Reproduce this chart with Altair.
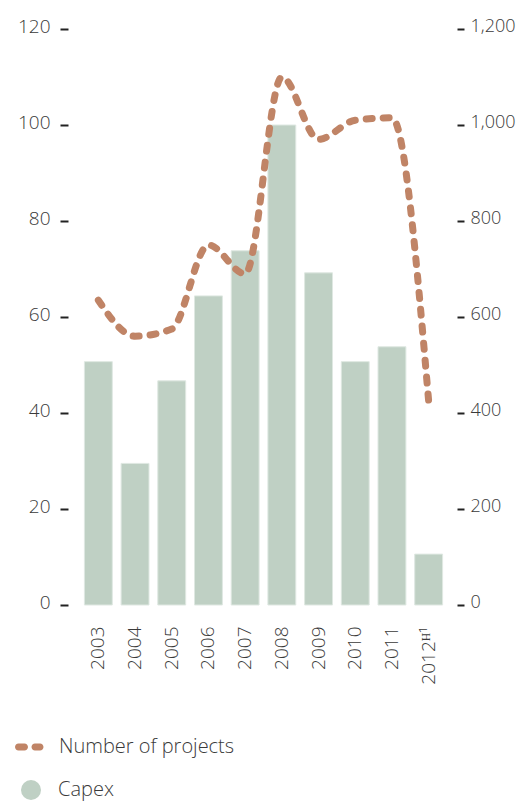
import altair as alt
import pandas as pd

years = ["2003", "2004", "2005", "2006", "2007", "2008", "2009", "2010", "2011", "2012"]
capex = [50.7, 29.5, 46.7, 64.4, 73.8, 100.0, 69.2, 50.7, 53.8, 10.6]
projects = [635, 560, 575, 750, 690, 1100, 970, 1010, 1015, 425]
left_ticks = [0, 20, 40, 60, 80, 100, 120]
right_ticks = [0, 200, 400, 600, 800, 1000, 1200]

df = pd.DataFrame({
    "year": years,
    "capex": capex,
    "projects": projects,
    "capex_name": ["Capex"] * len(years),
    "proj_name": ["Number of projects"] * len(years),
})

FONT = "Open Sans"
TEXT = "#3a3a3a"
GREEN = "#bfd0c4"
BROWN = "#c08466"
WEIGHT = 300

# two rounded dashes as a legend symbol (unit coords)
PILLS = ("M -0.767 -0.233 L -0.367 -0.233 A 0.233 0.233 0 0 1 -0.367 0.233 "
         "L -0.767 0.233 A 0.233 0.233 0 0 1 -0.767 -0.233 Z "
         "M 0.333 -0.233 L 0.667 -0.233 A 0.233 0.233 0 0 1 0.667 0.233 "
         "L 0.333 0.233 A 0.233 0.233 0 0 1 0.333 -0.233 Z")

x = alt.X(
    "year:N", title=None,
    scale=alt.Scale(paddingInner=0.24, paddingOuter=0.12),
    axis=alt.Axis(labelAngle=-90, labelAlign="right", labelBaseline="middle",
                  ticks=False, domain=False, labelPadding=21, labelFontSize=19,
                  labelColor=TEXT, labelFont=FONT, labelFontWeight=WEIGHT,
                  labelExpr="datum.value == '2012' ? '2012ᴴ¹' : datum.value"),
)

bars = alt.Chart(df).mark_bar(stroke="#dfe8e2", strokeWidth=1).encode(
    x=x,
    y=alt.Y("capex:Q", scale=alt.Scale(domain=[0, 120]),
            axis=alt.Axis(values=left_ticks, offset=12, tickSize=8, tickWidth=2,
                          tickColor="#222222", domain=False, grid=False,
                          labelFontSize=19, labelColor=TEXT, labelFont=FONT,
                          labelFontWeight=WEIGHT,
                          labelPadding=10, labelOffset=-3, title=None)),
    fill=alt.Fill("capex_name:N", scale=alt.Scale(domain=["Capex"], range=[GREEN]),
                  legend=alt.Legend(title=None, orient="none", legendX=-59, legendY=751,
                                    symbolType="circle", symbolSize=400,
                                    symbolFillColor=GREEN, symbolStrokeWidth=0,
                                    labelFontSize=20, labelFont=FONT, labelColor=TEXT,
                                    labelFontWeight=WEIGHT,
                                    labelOffset=17, labelLimit=400, padding=0)),
)

line = alt.Chart(df).mark_line(interpolate="monotone", strokeWidth=7,
                               strokeDash=[6, 11], strokeCap="round").encode(
    x=x,
    y=alt.Y("projects:Q", scale=alt.Scale(domain=[0, 1200]),
            axis=alt.Axis(orient="right", values=right_ticks, offset=10, tickSize=7,
                          tickWidth=2, tickColor="#222222", domain=False, grid=False,
                          labelFontSize=18, labelColor=TEXT, labelFont=FONT,
                          labelFontWeight=WEIGHT,
                          labelPadding=6, labelOffset=-3, format=",.0f", title=None)),
    stroke=alt.Stroke("proj_name:N",
                      scale=alt.Scale(domain=["Number of projects"], range=[BROWN]),
                      legend=alt.Legend(title=None, orient="none", legendX=-65, legendY=703,
                                        symbolType=PILLS, symbolSize=900,
                                        symbolStrokeWidth=0, symbolFillColor=BROWN,
                                        labelFontSize=20, labelFont=FONT, labelColor=TEXT,
                                        labelFontWeight=WEIGHT,
                                        labelOffset=14, labelLimit=400, padding=0)),
)

chart = alt.layer(bars, line).resolve_scale(y="independent").properties(
    width=367, height=576,
    autosize=alt.AutoSizeParams(type="none"),
    padding={"left": 72, "top": 21, "right": 71, "bottom": 210},
).configure_view(stroke=None)

chart.save("out.html", embed_options={"renderer": "svg", "actions": False})
